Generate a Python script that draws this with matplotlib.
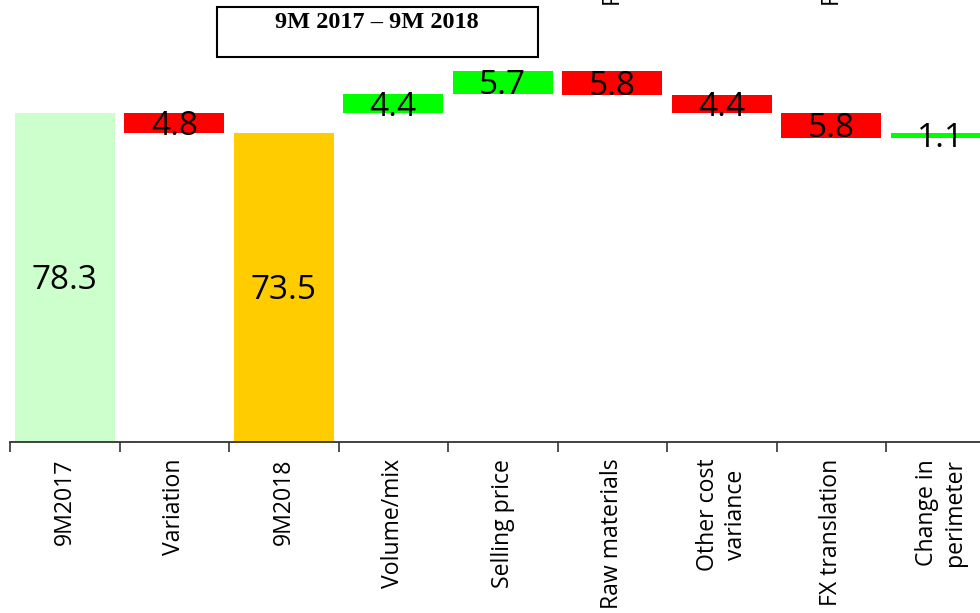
import matplotlib
matplotlib.use('Agg')
import matplotlib.pyplot as plt
from matplotlib.patches import Rectangle
import numpy as np

categories = ['9M2017', 'Variation', '9M2018', 'Volume/mix', 'Selling price',
              'Raw materials', 'Other cost\nvariance', 'FX translation',
              'Change in\nperimeter']
start_value = 78.3
end_value = 73.5
variation = -4.8
bridge_steps = [4.4, 5.7, -5.8, -4.4, -5.8, 1.1]
title_text = '9M 2017 \u2013 9M 2018'
# labels of the panel above, cut by the top edge
above_labels = {5: 'Raw materials', 7: 'FX translation'}

light_green = '#CCFFCC'
gold = '#FFCC00'
red = '#FF0000'
green = '#00FF00'

plt.rcParams['font.family'] = ['Open Sans', 'DejaVu Sans']

W, H = 980, 613
fig = plt.figure(figsize=(W / 100, H / 100), dpi=100)

base_px = 442
px_per_unit = 4.202
slot_px = 109.5
ax = fig.add_axes([10 / W, (H - base_px) / H, 9 * slot_px / W, base_px / H])
ax.set_xlim(-0.5, 8.5)
ax.set_ylim(0, base_px / px_per_unit)

bw = 0.91
x = np.arange(len(categories))
fs = 24
tick_fs = 16.6


def label(xi, yc, val):
    # put the digits' middle on yc
    ax.annotate(f'{abs(val):.1f}', (xi, yc), xytext=(0, -0.357 * fs),
                textcoords='offset points', ha='center', va='baseline', fontsize=fs)


# totals
ax.bar(x[0], start_value, bw, color=light_green)
ax.bar(x[2], end_value, bw, color=gold)
label(x[0], start_value / 2, start_value)
label(x[2], end_value / 2, end_value)

# overall variation
ax.bar(x[1], -variation, bw, bottom=end_value, color=red)
label(x[1], end_value - variation / 2, variation)

# bridge
level = start_value
for i, step in enumerate(bridge_steps):
    xi = x[3 + i]
    bottom = level if step > 0 else level + step
    ax.bar(xi, abs(step), bw, bottom=bottom, color=green if step > 0 else red)
    label(xi, bottom + abs(step) / 2, step)
    level += step

for s in ['top', 'right', 'left']:
    ax.spines[s].set_visible(False)
ax.spines['bottom'].set_color('#333333')
ax.spines['bottom'].set_linewidth(1.3)
ax.set_yticks([])
ax.set_xticks(x)
ax.set_xticklabels(categories, rotation=90, fontsize=tick_fs, va='top', ha='center',
                   linespacing=1.2)
ax.tick_params(axis='x', which='major', length=0, pad=12)
ax.set_xticks(np.arange(-0.5, 9, 1), minor=True)
ax.tick_params(axis='x', which='minor', length=7, width=1.2, color='#333333', direction='out')

# title box
fig.patches.append(Rectangle((217 / W, 1 - 57 / H), 321 / W, 50 / H,
                             transform=fig.transFigure, fill=False,
                             edgecolor='black', linewidth=1.5))
fig.text(377 / W, 1 - 22 / H, title_text, ha='center', va='center',
         fontsize=17.5, fontweight='bold', family='Liberation Serif')

for i, lab in above_labels.items():
    fig.text((12 + (i + 0.5) * slot_px) / W, 1 - 6 / H, lab, rotation=90,
             ha='center', va='bottom', fontsize=tick_fs)

fig.savefig('out.png', dpi=100)
